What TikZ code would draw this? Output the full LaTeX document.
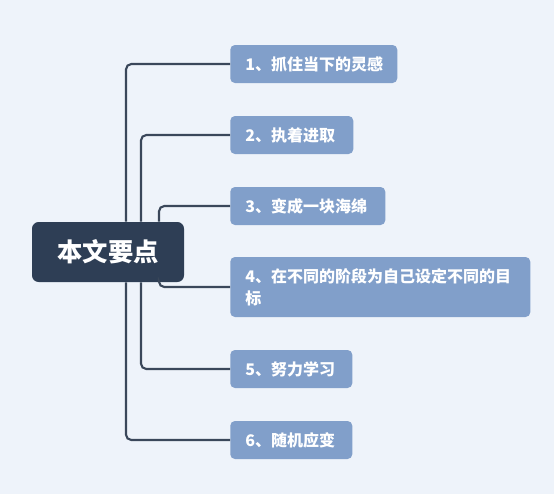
\documentclass[tikz,border=0pt]{standalone}
\usepackage{fontspec}
\newfontfamily\cjk{Noto Sans CJK SC}
\definecolor{bgc}{HTML}{EEF3FA}
\definecolor{rootc}{HTML}{2E3E55}
\definecolor{boxc}{HTML}{819FCA}
\definecolor{linec}{HTML}{3A475A}
\tikzset{
  rootbox/.style={fill=rootc, text=white, rounded corners=5pt, minimum width=114pt, minimum height=45pt, inner sep=0pt, font=\cjk\bfseries\fontsize{19}{22}\selectfont},
  childbox/.style={fill=boxc, text=white, rounded corners=3.5pt, anchor=west, align=left, inner xsep=11.25pt, inner ysep=0pt, minimum height=28.5pt, font=\cjk\bfseries\fontsize{12}{16.5}\selectfont},
  conn/.style={draw=linec, line width=1.6pt, rounded corners=4pt}
}
\begin{document}
\begin{tikzpicture}[x=0.75pt,y=-0.75pt]
\fill[bgc] (0,0) rectangle (554,494);
\useasboundingbox (0,0) rectangle (554,494);
\coordinate (xa) at (126,0);
\coordinate (xb) at (141,0);
\coordinate (xc) at (159,0);
\node[rootbox] (root) at (108,252) {本文要点};
\node[childbox, text width=102.75pt] (n1) at (230,64) {1、抓住当下的灵感};
\node[childbox, text width=69.75pt] (n2) at (230,135) {2、执着进取};
\node[childbox, text width=93.75pt] (n3) at (230,206) {3、变成一块海绵};
\node[childbox, text width=202.5pt, minimum height=45pt] (n4) at (230,287) {4、在不同的阶段为自己设定不同的目\\标};
\node[childbox, text width=69pt] (n5) at (230,369) {5、努力学习};
\node[childbox, text width=69pt] (n6) at (230,440) {6、随机应变};
\draw[conn] (root.north -| xa) |- (n1.west);
\draw[conn] (root.north -| xb) |- (n2.west);
\draw[conn] (root.north -| xc) |- (n3.west);
\draw[conn] (root.south -| xc) |- (n4.west);
\draw[conn] (root.south -| xb) |- (n5.west);
\draw[conn] (root.south -| xa) |- (n6.west);
\end{tikzpicture}
\end{document}
